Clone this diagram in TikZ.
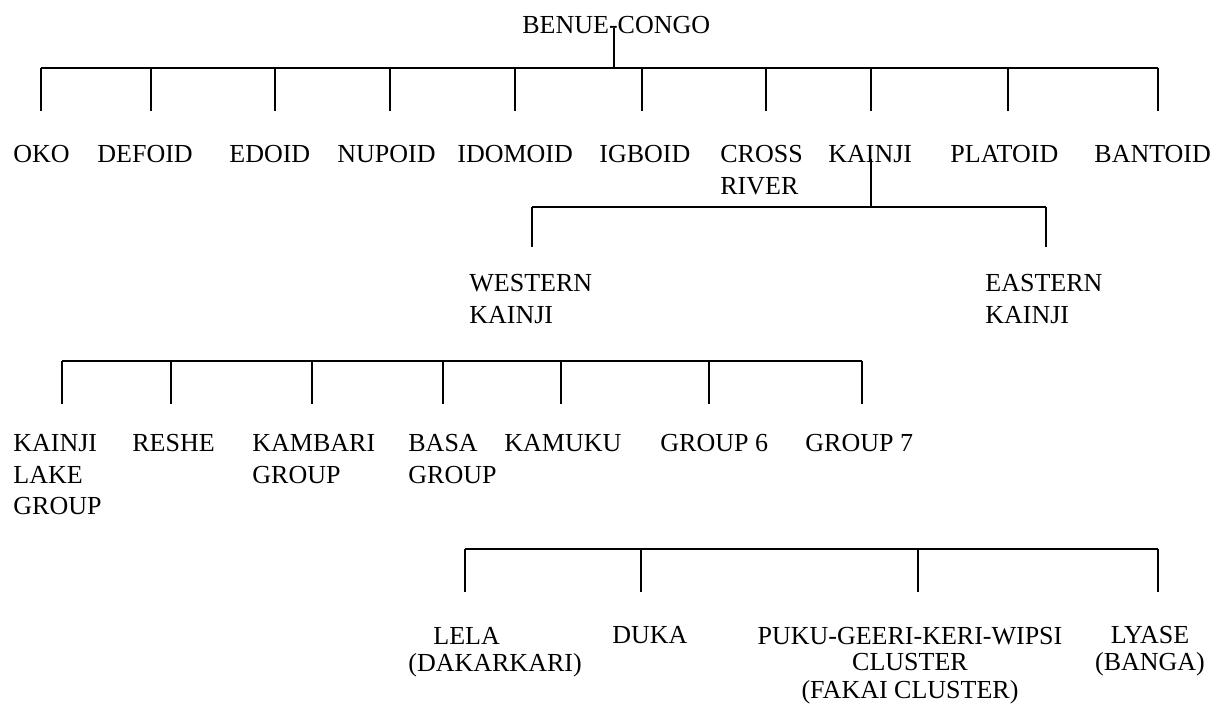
\documentclass[tikz,border=0pt]{standalone}
\usepackage{fontspec}
\setmainfont{Liberation Serif}
\usetikzlibrary{positioning}
\tikzset{
  lang/.style={inner sep=0pt, anchor=base west, align=left, font=\fontsize{13}{15.75}\selectfont},
  langc/.style={lang, anchor=base, align=center, font=\fontsize{13}{13.5}\selectfont},
  branch/.style={line width=0.8pt},
}
\begin{document}
\begin{tikzpicture}[x=0.5pt, y=-0.5pt]
  \useasboundingbox (0,0) rectangle (1216,710);
  % top level
  \node[lang] (bc) at (522,34) {BENUE-CONGO};
  \node[lang] (oko) at (13,163) {OKO};
  \node[lang] (defoid) at (97,163) {DEFOID};
  \node[lang] (edoid) at (229,163) {EDOID};
  \node[lang] (nupoid) at (337,163) {NUPOID};
  \node[lang] (idomoid) at (457,163) {IDOMOID};
  \node[lang] (igboid) at (599,163) {IGBOID};
  \node[lang] (cross) at (720,194.5) {CROSS\\RIVER};
  \node[lang] (kainji) at (828,163) {KAINJI};
  \node[lang] (platoid) at (950,163) {PLATOID};
  \node[lang] (bantoid) at (1094,163) {BANTOID};
  \coordinate (bcstub) at (614,28);
  \coordinate (bcbar) at (614,68);
  \draw[branch] (bcstub) -- (bcbar);
  \draw[branch] (41,68) -- (1158,68);
  \foreach \x in {41,151,275,390,515,642,766,871,1008,1158}
    \draw[branch] (\x,68) -- (\x,111);
  % kainji
  \node[lang] (wk) at (469,323.5) {WESTERN\\KAINJI};
  \node[lang] (ek) at (985,323.5) {EASTERN\\KAINJI};
  \coordinate (kstub) at (871,159);
  \coordinate (kbar) at (871,207);
  \draw[branch] (kstub) -- (kbar);
  \draw[branch] (532,207) -- (1046,207);
  \foreach \x in {532,1046}
    \draw[branch] (\x,207) -- (\x,247);
  % western kainji
  \node[lang] (klg) at (13,515) {KAINJI\\LAKE\\GROUP};
  \node[lang] (reshe) at (132,452) {RESHE};
  \node[lang] (kambari) at (252,483.5) {KAMBARI\\GROUP};
  \node[lang] (basa) at (408,483.5) {BASA\\GROUP};
  \node[lang] (kamuku) at (504,452) {KAMUKU};
  \node[lang] (g6) at (660,452) {GROUP 6};
  \node[lang] (g7) at (805,452) {GROUP 7};
  \draw[branch] (62,361) -- (862,361);
  \foreach \x in {62,171,312,443,561,709,862}
    \draw[branch] (\x,361) -- (\x,404);
  % group 7
  \node[langc, anchor=base west, align=left] (lela) at (408,672) {\hspace*{12.5pt}LELA\\(DAKARKARI)};
  \node[lang] (duka) at (612,644) {DUKA};
  \node[langc] (puku) at (910,698) {PUKU-GEERI-KERI-WIPSI\\CLUSTER\\(FAKAI CLUSTER)};
  \node[langc] (lyase) at (1150,671) {LYASE\\(BANGA)};
  \draw[branch] (465,549) -- (1158,549);
  \foreach \x in {465,641,918,1158}
    \draw[branch] (\x,549) -- (\x,592);
\end{tikzpicture}
\end{document}
